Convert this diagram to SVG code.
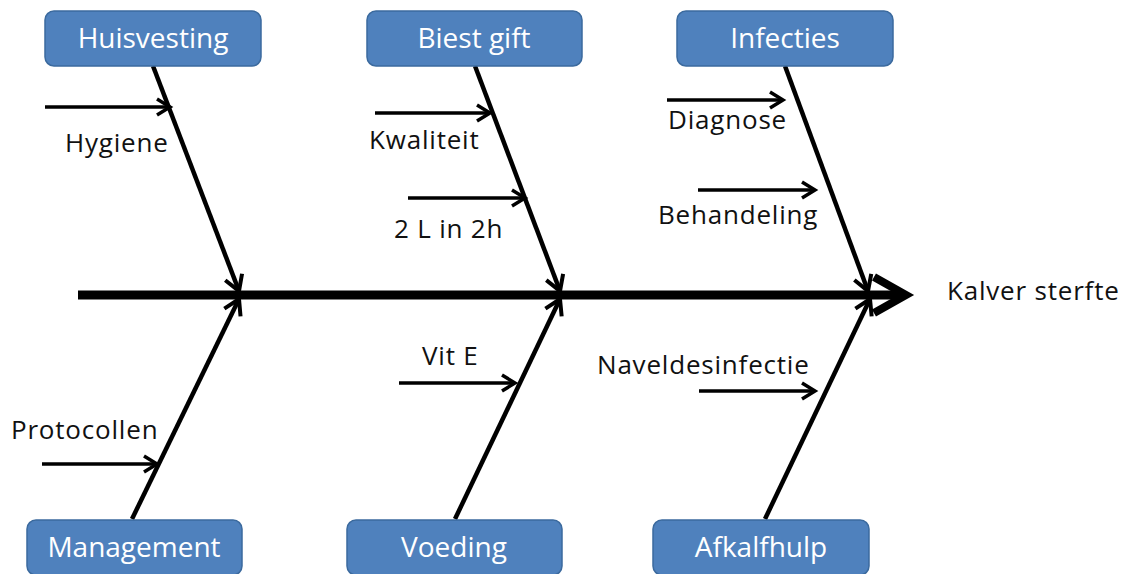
<svg xmlns="http://www.w3.org/2000/svg" width="1126" height="574" viewBox="0 0 1126 574">
<style>
.box{fill:#4F81BD;stroke:#3B6A9E;stroke-width:1.5}
.bt{font-family:"Open Sans","Liberation Sans",sans-serif;font-size:28px;fill:#FFFFFF;text-anchor:middle}
.lb{font-family:"Open Sans","Liberation Sans",sans-serif;font-size:26px;letter-spacing:0.8px;fill:#111111}
.br{stroke:#000;stroke-width:4.5;fill:none;marker-end:url(#ah)}
.sub{stroke:#000;stroke-width:3.5;fill:none;marker-end:url(#sh)}
</style>
<defs>
<marker id="ah" markerUnits="userSpaceOnUse" viewBox="-20 -12 24 24" refX="0" refY="0" markerWidth="24" markerHeight="24" orient="auto" overflow="visible">
<path d="M-15,-9 L0,0 L-15,9" fill="none" stroke="#000" stroke-width="4" stroke-linejoin="miter"/>
</marker>
<marker id="sh" markerUnits="userSpaceOnUse" viewBox="-20 -12 24 24" refX="0" refY="0" markerWidth="24" markerHeight="24" orient="auto" overflow="visible">
<path d="M-13,-8 L0,0 L-13,8" fill="none" stroke="#000" stroke-width="3.5"/>
</marker>
</defs>
<rect width="1126" height="574" fill="#FFFFFF"/>
<g id="connectors">
<line x1="78" y1="295" x2="902" y2="295" stroke="#000" stroke-width="9"/>
<path d="M874,277 L906,295 L874,313" fill="none" stroke="#000" stroke-width="8"/>
<line class="br" x1="153" y1="66" x2="239" y2="291"/>
<line class="br" x1="475" y1="66" x2="560" y2="291"/>
<line class="br" x1="785" y1="66" x2="868" y2="291"/>
<line class="br" x1="132" y1="519" x2="239" y2="299"/>
<line class="br" x1="455" y1="519" x2="560" y2="299"/>
<line class="br" x1="765" y1="519" x2="870" y2="299"/>
<line class="sub" x1="45" y1="107" x2="170" y2="107"/>
<line class="sub" x1="375" y1="113" x2="490" y2="113"/>
<line class="sub" x1="408" y1="198" x2="525" y2="198"/>
<line class="sub" x1="667" y1="100" x2="783" y2="100"/>
<line class="sub" x1="698" y1="190" x2="815" y2="190"/>
<line class="sub" x1="42" y1="464" x2="157" y2="464"/>
<line class="sub" x1="399" y1="383" x2="515" y2="383"/>
<line class="sub" x1="699" y1="391" x2="815" y2="391"/>
</g>
<g id="huisvesting"><rect class="box" x="45" y="11" width="216" height="55" rx="9"/><text class="bt" x="153" y="48">Huisvesting</text></g>
<g id="biestgift"><rect class="box" x="367" y="11" width="215" height="55" rx="9"/><text class="bt" x="474" y="48">Biest gift</text></g>
<g id="infecties"><rect class="box" x="677" y="11" width="216" height="55" rx="9"/><text class="bt" x="785" y="48">Infecties</text></g>
<g id="management"><rect class="box" x="27" y="520" width="215" height="55" rx="9"/><text class="bt" x="134" y="557">Management</text></g>
<g id="voeding"><rect class="box" x="347" y="520" width="215" height="55" rx="9"/><text class="bt" x="454" y="557">Voeding</text></g>
<g id="afkalfhulp"><rect class="box" x="653" y="520" width="216" height="55" rx="9"/><text class="bt" x="761" y="557">Afkalfhulp</text></g>
<g id="labels">
<text class="lb" x="65" y="152">Hygiene</text>
<text class="lb" x="369" y="149">Kwaliteit</text>
<text class="lb" x="394" y="238">2 L in 2h</text>
<text class="lb" x="668" y="129">Diagnose</text>
<text class="lb" x="658" y="224">Behandeling</text>
<text class="lb" x="11" y="439">Protocollen</text>
<text class="lb" x="422" y="365">Vit E</text>
<text class="lb" x="597" y="374">Naveldesinfectie</text>
<text class="lb" x="947" y="300">Kalver sterfte</text>
</g>
</svg>
